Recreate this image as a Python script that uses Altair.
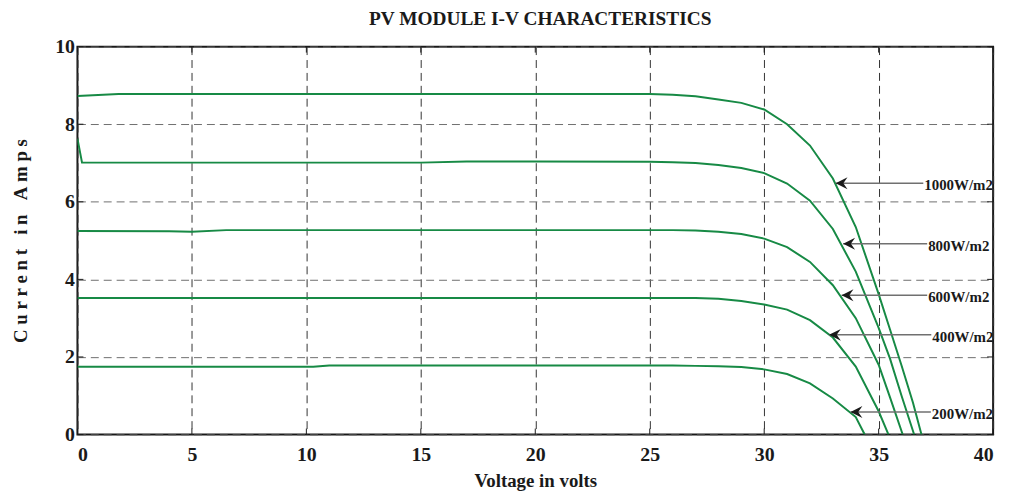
import altair as alt
import pandas as pd

# ---- data ----
irradiance = ["1000W/m2", "800W/m2", "600W/m2", "400W/m2", "200W/m2"]

v1000 = [0, 1.8, 5, 10, 15, 20, 25, 26, 27, 28, 29, 30, 31, 32, 33, 34, 35, 35.5, 36, 36.5, 36.87]
i1000 = [8.73, 8.78, 8.78, 8.78, 8.78, 8.78, 8.78, 8.76, 8.72, 8.64, 8.55, 8.38, 8.0, 7.45, 6.6, 5.35, 3.62, 2.7, 1.78, 0.82, 0]

v800 = [0, 0.2, 5, 10, 15, 17, 20, 25, 26, 27, 28, 29, 30, 31, 32, 33, 34, 35, 35.5, 36, 36.55]
i800 = [7.63, 7.01, 7.01, 7.01, 7.01, 7.04, 7.04, 7.03, 7.02, 7.0, 6.95, 6.87, 6.74, 6.47, 6.03, 5.3, 4.2, 2.75, 1.95, 1.0, 0]

v600 = [0, 4, 5, 6.5, 10, 15, 20, 25, 26, 27, 28, 29, 30, 31, 32, 33, 34, 35, 35.5, 36.05]
i600 = [5.25, 5.24, 5.23, 5.27, 5.27, 5.27, 5.27, 5.27, 5.27, 5.26, 5.23, 5.17, 5.05, 4.83, 4.45, 3.85, 3.0, 1.8, 0.95, 0]

v400 = [0, 5, 10, 15, 20, 25, 26, 27, 28, 29, 30, 31, 32, 33, 34, 35, 35.43]
i400 = [3.52, 3.52, 3.52, 3.52, 3.52, 3.52, 3.52, 3.52, 3.5, 3.44, 3.35, 3.22, 2.95, 2.5, 1.75, 0.6, 0]

v200 = [0, 5, 10, 10.3, 11, 15, 20, 25, 26, 27, 28, 29, 30, 31, 32, 33, 34, 34.39]
i200 = [1.75, 1.75, 1.75, 1.75, 1.78, 1.78, 1.78, 1.78, 1.78, 1.77, 1.76, 1.74, 1.68, 1.56, 1.32, 0.93, 0.45, 0]

# annotation arrows: tip on curve and label start
tip_v = [33.12, 33.45, 33.38, 32.83, 33.77]
tip_i = [6.48, 4.92, 3.59, 2.57, 0.58]
label_v = [36.95, 37.12, 37.12, 37.3, 37.28]

x_ticks = [0, 5, 10, 15, 20, 25, 30, 35, 40]
y_ticks = [0, 2, 4, 6, 8, 10]

NB = "\u00a0"
y_title = NB.join("Current") + NB * 3 + NB.join("in") + NB * 3 + NB.join("Amps")

# ---- build tables ----
series = [(irradiance[0], v1000, i1000), (irradiance[1], v800, i800),
          (irradiance[2], v600, i600), (irradiance[3], v400, i400),
          (irradiance[4], v200, i200)]
rows = []
for name, vs, cs in series:
    for k, (v, c) in enumerate(zip(vs, cs)):
        rows.append({"G": name, "V": v, "I": c, "k": k})
curves = pd.DataFrame(rows)

ann = pd.DataFrame({"label": irradiance, "V": tip_v, "I": tip_i, "V2": label_v})
xt = pd.DataFrame({"V": x_ticks})
yt = pd.DataFrame({"I": y_ticks})

FONT = "Liberation Serif"
GREEN = "#178a45"
W, H = 923, 391
TICK = 6

xs = alt.Scale(domain=[0, 40], nice=False)
ys = alt.Scale(domain=[0, 10], nice=False)

lines = alt.Chart(curves).mark_line(color=GREEN, strokeWidth=2, clip=True).encode(
    x=alt.X("V:Q", scale=xs, axis=alt.Axis(
        values=x_ticks, title="Voltage in volts", grid=True, gridColor="#333333",
        gridDash=[8, 5], gridWidth=1, ticks=False, domain=False,
        labelFont=FONT, labelFontWeight="bold", labelFontSize=20, labelColor="#1a1a1a",
        labelPadding=10, titleFont=FONT, titleFontWeight="bold", titleFontSize=19,
        titleColor="#1a1a1a", titleX=461.5, titleY=52, titleBaseline="alphabetic",
        titleAlign="center")),
    y=alt.Y("I:Q", scale=ys, axis=alt.Axis(
        values=y_ticks, title=y_title, grid=True,
        gridColor="#6e6e6e", gridDash=[8, 5], gridWidth=1, ticks=False, domain=False,
        labelFont=FONT, labelFontWeight="bold", labelFontSize=20, labelColor="#1a1a1a",
        labelPadding=3, titleFont=FONT, titleFontWeight="bold", titleFontSize=19,
        titleColor="#1a1a1a", titleX=-51, titleY=195.5, titleAngle=-90,
        titleBaseline="alphabetic", titleAlign="center")),
    detail="G:N",
    order="k:Q",
)

# inward tick marks on all four sides
xt_bottom = alt.Chart(xt).mark_rule(color="#1a1a1a", strokeWidth=1).encode(
    x=alt.X("V:Q", scale=xs), y=alt.value(H), y2=alt.value(H - TICK))
xt_top = alt.Chart(xt).mark_rule(color="#1a1a1a", strokeWidth=1).encode(
    x=alt.X("V:Q", scale=xs), y=alt.value(0), y2=alt.value(TICK))
yt_left = alt.Chart(yt).mark_rule(color="#1a1a1a", strokeWidth=1).encode(
    y=alt.Y("I:Q", scale=ys), x=alt.value(0), x2=alt.value(TICK))
yt_right = alt.Chart(yt).mark_rule(color="#1a1a1a", strokeWidth=1).encode(
    y=alt.Y("I:Q", scale=ys), x=alt.value(W), x2=alt.value(W - TICK))

rule = alt.Chart(ann).mark_rule(color="#707070", strokeWidth=1.5).encode(
    x=alt.X("V:Q", scale=xs),
    x2="V2:Q",
    y=alt.Y("I:Q", scale=ys),
)

head = alt.Chart(ann).mark_point(
    shape="M0,0 L2,-1 L1.3,0 L2,1 Z", size=144, filled=True,
    color="#1a1a1a", opacity=1).encode(
    x=alt.X("V:Q", scale=xs),
    y=alt.Y("I:Q", scale=ys),
)

text = alt.Chart(ann).mark_text(
    align="left", baseline="middle", font=FONT, fontWeight="bold",
    fontSize=15, dx=1, dy=2, color="#1a1a1a").encode(
    x=alt.X("V2:Q", scale=xs),
    y=alt.Y("I:Q", scale=ys),
    text="label:N",
)

chart = alt.layer(lines, xt_bottom, xt_top, yt_left, yt_right, rule, head, text).properties(
    width=W, height=H,
    title=alt.TitleParams("PV MODULE I-V CHARACTERISTICS", font=FONT,
                          fontWeight="bold", fontSize=19.5, color="#1a1a1a",
                          anchor="middle", offset=7, dx=5),
    autosize=alt.AutoSizeParams(type="none"),
    padding={"left": 70, "top": 37, "right": 14, "bottom": 60},
).configure(background="white").configure_view(stroke="#1a1a1a", strokeWidth=2)

chart.save("out.html", embed_options={"renderer": "svg", "actions": False})
